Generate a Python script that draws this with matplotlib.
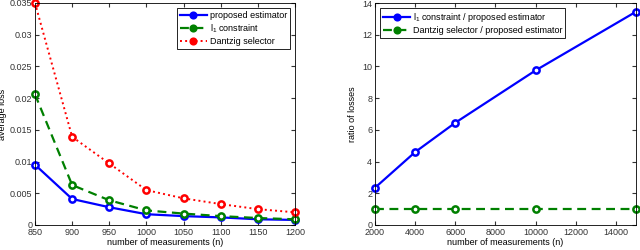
import numpy as np
import matplotlib.pyplot as plt

# left panel: average loss vs n
n_left = [850, 900, 950, 1000, 1050, 1100, 1150, 1200]
loss_proposed = [0.0095, 0.0041, 0.0028, 0.0017, 0.0014, 0.0012, 0.0009, 0.0008]
loss_l1 = [0.0206, 0.0063, 0.0039, 0.0023, 0.0018, 0.0014, 0.0011, 0.0009]
loss_dantzig = [0.0350, 0.0139, 0.0097, 0.0055, 0.0042, 0.0033, 0.0025, 0.0020]

# right panel: ratio of losses vs n
n_right = [2000, 4000, 6000, 10000, 15000]
ratio_l1 = [2.35, 4.6, 6.45, 9.75, 13.45]
ratio_dantzig = [1.0, 1.0, 1.0, 1.0, 1.0]

plt.rcParams['font.family'] = 'Liberation Sans'
plt.rcParams['font.size'] = 6.5
plt.rcParams['mathtext.fontset'] = 'custom'
plt.rcParams['mathtext.rm'] = 'Liberation Sans'

fig = plt.figure(figsize=(6.4, 2.5), dpi=100)
ax1 = fig.add_axes([35 / 640, 25 / 250, 260 / 640, 222 / 250])
ax2 = fig.add_axes([375 / 640, 25 / 250, 261 / 640, 222 / 250])

mk = dict(marker='o', markersize=4.5, markeredgewidth=1.8, markerfacecolor='white')

ax1.plot(n_left, loss_proposed, '-', color='#0000ff', lw=1.6, label='proposed estimator', **mk)
ax1.plot(n_left, loss_l1, '--', color='#008000', lw=1.6, dashes=(4, 2.5), label='l$_1$ constraint', **mk)
ax1.plot(n_left, loss_dantzig, ':', color='#ff0000', lw=1.4, label='Dantzig selector', **mk)
ax1.set_xlim(850, 1200)
ax1.set_ylim(0, 0.035)
ax1.set_xticks(n_left)
ax1.set_yticks([0, 0.005, 0.01, 0.015, 0.02, 0.025, 0.03, 0.035])
ax1.set_yticklabels(['0', '0.005', '0.01', '0.015', '0.02', '0.025', '0.03', '0.035'])
ax1.set_xlabel('number of measurements (n)', labelpad=1)
ax1.set_ylabel('average loss', labelpad=2)

ax2.plot(n_right, ratio_l1, '-', color='#0000ff', lw=1.6, label='l$_1$ constraint / proposed estimator', **mk)
ax2.plot(n_right, ratio_dantzig, '--', color='#008000', lw=1.6, dashes=(4, 2.5),
         label='Dantzig selector / proposed estimator', **mk)
ax2.set_xlim(2000, 15000)
ax2.set_ylim(0, 14)
ax2.set_xticks(range(2000, 15000, 2000))
ax2.set_yticks(range(0, 15, 2))
ax2.set_xlabel('number of measurements (n)', labelpad=1)
ax2.set_ylabel('ratio of losses', labelpad=4)

for ax in (ax1, ax2):
    ax.tick_params(direction='in', top=True, right=True, length=3, pad=2, colors='#333333')
    for s in ax.spines.values():
        s.set_linewidth(0.6)
    for p in ax.lines:
        p.set_clip_on(False)

leg_kw = dict(fancybox=False, edgecolor='black', framealpha=1, borderpad=0.3,
              handlelength=3, handletextpad=0.3, labelspacing=0.25, borderaxespad=0.6,
              markerscale=0.9)
l1 = ax1.legend(loc='upper right', **leg_kw)
l2 = ax2.legend(loc='upper left', **leg_kw)
for lg in (l1, l2):
    lg.get_frame().set_linewidth(0.6)
    for h in lg.legend_handles:
        h.set_markerfacecolor(h.get_color())

plt.savefig('out.png', dpi=100)
